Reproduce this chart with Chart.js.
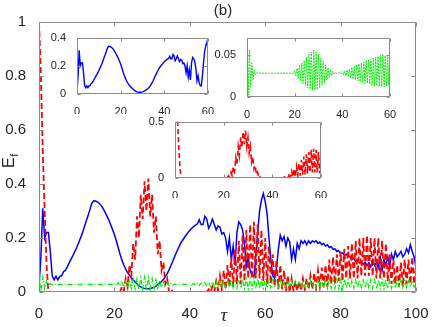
<!DOCTYPE html>
<html>
<head>
<meta charset="utf-8">
<script src="https://cdn.jsdelivr.net/npm/chart.js@4.4.1/dist/chart.umd.min.js"></script>
<style>
  body { margin: 0; background: #fff; }
  #wrap { position: relative; width: 436px; height: 327px; }
  canvas { position: absolute; }
</style>
</head>
<body>
<div id="wrap">
  <canvas id="main" width="436" height="327" style="left:0;top:0"></canvas>
  <canvas id="ins1" width="172" height="86" style="left:45px;top:28px"></canvas>
  <canvas id="ins2" width="188" height="90" style="left:212px;top:28px"></canvas>
  <canvas id="ins3" width="190" height="86" style="left:140px;top:112px"></canvas>
</div>
<script>
// sample times (tau)
const tau = [
  0,0.5,1,1.5,2,2.5,3,3.5,4,4.5,
  5,5.5,6,6.5,7,7.5,8,8.5,9,9.5,
  10,10.5,11,11.5,12,12.5,13,13.5,14,14.5,
  15,15.5,16,16.5,17,17.5,18,18.5,19,19.5,
  20,20.5,21,21.5,22,22.5,23,23.5,24,24.5,
  25,25.5,26,26.5,27,27.5,28,28.5,29,29.5,
  30,30.5,31,31.5,32,32.5,33,33.5,34,34.5,
  35,35.5,36,36.5,37,37.5,38,38.5,39,39.5,
  40,40.5,41,41.5,42,42.5,43,43.5,44,44.5,
  45,45.5,46,46.5,47,47.5,48,48.5,49,49.5,
  50,50.5,51,51.5,52,52.5,53,53.5,54,54.5,
  55,55.5,56,56.5,57,57.5,58,58.5,59,59.5,
  60,60.5,61,61.5,62,62.5,63,63.5,64,64.5,
  65,65.5,66,66.5,67,67.5,68,68.5,69,69.5,
  70,70.5,71,71.5,72,72.5,73,73.5,74,74.5,
  75,75.5,76,76.5,77,77.5,78,78.5,79,79.5,
  80,80.5,81,81.5,82,82.5,83,83.5,84,84.5,
  85,85.5,86,86.5,87,87.5,88,88.5,89,89.5,
  90,90.5,91,91.5,92,92.5,93,93.5,94,94.5,
  95,95.5,96,96.5,97,97.5,98,98.5,99,99.5,
  100
];

// blue solid
const blueE = [
  0.02,0.13,0.31,0.2,0.22,0.22,0.15,0.06,0.045,0.058,
  0.045,0.058,0.06,0.075,0.08,0.093,0.108,0.122,0.135,0.15,
  0.165,0.182,0.2,0.218,0.24,0.262,0.282,0.305,0.328,0.338,
  0.337,0.334,0.328,0.32,0.31,0.296,0.282,0.267,0.25,0.232,
  0.213,0.19,0.165,0.14,0.118,0.1,0.085,0.072,0.062,0.053,
  0.045,0.037,0.03,0.024,0.019,0.015,0.013,0.012,0.012,0.013,
  0.015,0.018,0.022,0.027,0.033,0.039,0.046,0.056,0.068,0.082,
  0.098,0.115,0.132,0.148,0.163,0.178,0.19,0.2,0.21,0.22,
  0.228,0.236,0.242,0.248,0.252,0.268,0.25,0.25,0.28,0.27,
  0.236,0.25,0.27,0.25,0.23,0.245,0.24,0.215,0.22,0.2,
  0.15,0.2,0.12,0.17,0.1,0.22,0.26,0.25,0.23,0.18,
  0.095,0.13,0.08,0.06,0.057,0.13,0.22,0.3,0.34,0.365,
  0.335,0.29,0.2,0.12,0.06,0.05,0.09,0.16,0.21,0.19,
  0.205,0.17,0.2,0.185,0.12,0.16,0.12,0.18,0.16,0.19,
  0.18,0.19,0.175,0.19,0.18,0.19,0.185,0.19,0.18,0.185,
  0.175,0.18,0.17,0.175,0.165,0.168,0.158,0.16,0.15,0.153,
  0.143,0.145,0.135,0.14,0.13,0.132,0.12,0.125,0.113,0.118,
  0.108,0.113,0.103,0.11,0.098,0.108,0.093,0.118,0.098,0.11,
  0.09,0.13,0.08,0.12,0.1,0.13,0.09,0.14,0.12,0.15,
  0.13,0.14,0.15,0.13,0.14,0.16,0.145,0.175,0.15,0.13,
  0.09
];

// red dashed
const redE = [
  1.0,0.8,0.52,0.3,0.1,0,0,0,0,0,
  0,0,0,0,0,0,0,0,0,0,
  0,0,0,0,0,0,0,0,0,0,
  0,0,0,0,0,0,0,0,0,0,
  0,0,0.005,0,0.02,0.005,0.05,0.02,0.1,0.06,
  0.18,0.12,0.28,0.2,0.36,0.27,0.41,0.3,0.42,0.28,
  0.36,0.22,0.28,0.14,0.19,0.08,0.11,0.03,0.05,0,
  0.01,0,0,0,0,0,0,0,0,0,
  0,0,0,0,0,0,0,0,0.005,0,
  0.01,0,0.02,0,0.04,0.005,0.06,0.01,0.08,0.01,
  0.1,0.02,0.13,0.02,0.16,0.03,0.19,0.03,0.21,0.04,
  0.23,0.05,0.25,0.05,0.26,0.05,0.25,0.05,0.23,0.04,
  0.2,0.03,0.17,0.03,0.14,0.02,0.12,0.01,0.1,0.01,
  0.08,0,0.06,0,0.05,0.005,0.04,0.005,0.04,0.005,
  0.05,0.01,0.05,0.01,0.06,0.01,0.07,0.015,0.08,0.02,
  0.09,0.02,0.1,0.02,0.12,0.03,0.13,0.03,0.14,0.04,
  0.15,0.04,0.16,0.05,0.17,0.05,0.18,0.05,0.19,0.05,
  0.2,0.06,0.2,0.06,0.21,0.06,0.2,0.06,0.2,0.05,
  0.2,0.05,0.19,0.05,0.18,0.04,0.14,0.03,0.12,0.03,
  0.1,0.02,0.11,0.02,0.12,0.03,0.12,0.03,0.13,0.03,
  0.1
];

// green dash-dot
const greenE = [
  0.07,0.002,0.055,0.012,0.04,0.02,0.032,0.026,0.029,0.028,
  0.028,0.028,0.028,0.028,0.028,0.028,0.028,0.028,0.028,0.028,
  0.028,0.028,0.028,0.028,0.028,0.028,0.028,0.028,0.028,0.028,
  0.028,0.028,0.028,0.028,0.028,0.028,0.028,0.028,0.028,0.028,
  0.031,0.025,0.034,0.022,0.037,0.019,0.04,0.016,0.043,0.013,
  0.047,0.011,0.05,0.009,0.053,0.008,0.055,0.008,0.053,0.009,
  0.05,0.011,0.046,0.014,0.042,0.017,0.038,0.02,0.035,0.023,
  0.032,0.025,0.03,0.027,0.029,0.028,0.028,0.028,0.029,0.027,
  0.03,0.026,0.031,0.025,0.032,0.024,0.033,0.023,0.035,0.021,
  0.036,0.02,0.038,0.019,0.039,0.018,0.04,0.017,0.041,0.016,
  0.043,0.016,0.044,0.015,0.045,0.014,0.046,0.013,0.047,0.013,
  0.048,0.012,0.049,0.012,0.05,0.012,0.049,0.013,0.048,0.014,
  0.048,0.015,0.046,0.016,0.045,0.016,0.044,0.017,0.043,0.018,
  0.042,0.018,0.042,0.019,0.041,0.02,0.041,0.02,0.04,0.02,
  0.04,0.019,0.041,0.018,0.042,0.017,0.043,0.016,0.044,0.015,
  0.045,0.014,0.046,0.013,0.046,0.013,0.047,0.012,0.047,0.012,
  0.047,0.012,0.046,0.013,0.045,0.014,0.044,0.015,0.044,0.015,
  0.043,0.016,0.043,0.016,0.044,0.015,0.045,0.014,0.046,0.013,
  0.046,0.013,0.047,0.012,0.046,0.013,0.045,0.014,0.044,0.015,
  0.044,0.016,0.043,0.016,0.043,0.017,0.042,0.017,0.042,0.018,
  0.03
];

// tick labels
const mainXTicks = [0, 20, 40, 60, 80, 100];
const mainYTicks = [0, 0.2, 0.4, 0.6, 0.8, 1];
const insetXTicks = [0, 20, 40, 60];
const blueYTicks = [0, 0.2, 0.4];
const greenYTicks = [0, 0.05];
const redYTicks = [0, 0.5];

const FONT = 'Liberation Sans';
const TXT = '#262626';

function series(vals, tMax) {
  return tau.map((t, i) => ({ x: t, y: vals[i] })).filter(p => p.x <= tMax);
}

// matlab-ish box with inward ticks
const boxPlugin = {
  id: 'box',
  beforeDatasetsDraw(chart, args, opts) {
    if (!opts.fill) return;
    const { ctx, chartArea: a } = chart;
    ctx.save();
    ctx.fillStyle = '#fff';
    ctx.fillRect(a.left, a.top, a.right - a.left, a.bottom - a.top);
    ctx.restore();
  },
  afterDatasetsDraw(chart, args, opts) {
    const { ctx, chartArea: a, scales } = chart;
    const L = opts.tick || 4;
    ctx.save();
    ctx.strokeStyle = '#8a8a8a';
    ctx.lineWidth = 1;
    const l = Math.round(a.left) + 0.5, r = Math.round(a.right) - 0.5;
    const t = Math.round(a.top) + 0.5, b = Math.round(a.bottom) - 0.5;
    ctx.beginPath();
    ctx.rect(l, t, r - l, b - t);
    scales.x.ticks.forEach(tk => {
      const px = Math.round(scales.x.getPixelForValue(tk.value)) + 0.5;
      ctx.moveTo(px, b); ctx.lineTo(px, b - L);
      ctx.moveTo(px, t); ctx.lineTo(px, t + L);
    });
    scales.y.ticks.forEach(tk => {
      const py = Math.round(scales.y.getPixelForValue(tk.value)) + 0.5;
      ctx.moveTo(l, py); ctx.lineTo(l + L, py);
      ctx.moveTo(r, py); ctx.lineTo(r - L, py);
    });
    ctx.stroke();
    ctx.restore();
  }
};

const labelsPlugin = {
  id: 'labels',
  afterDraw(chart) {
    const ctx = chart.ctx;
    ctx.save();
    ctx.fillStyle = TXT;
    ctx.textAlign = 'center';
    ctx.textBaseline = 'middle';
    ctx.font = '15px "' + FONT + '"';
    ctx.fillText('(b)', 223, 11);
    ctx.font = 'italic 19px "Liberation Serif"';
    ctx.textBaseline = 'alphabetic';
    ctx.fillText('\u03c4', 224, 321);
    ctx.translate(14, 168);
    ctx.rotate(-Math.PI / 2);
    ctx.textAlign = 'left';
    ctx.font = '16px "' + FONT + '"';
    ctx.fillText('E', 0, 0);
    const w = ctx.measureText('E').width;
    ctx.font = '11px "' + FONT + '"';
    ctx.fillText('f', w + 0.5, 4);
    ctx.restore();
  }
};

function axis(min, max, tickVals, size, pad, fit) {
  return {
    type: 'linear', min: min, max: max,
    grid: { display: false }, border: { display: false },
    afterBuildTicks: s => { s.ticks = tickVals.map(v => ({ value: v })); },
    ticks: {
      font: { family: FONT, size: size }, color: TXT, padding: pad,
      maxRotation: 0, autoSkip: false, callback: v => String(v)
    },
    afterFit: fit
  };
}

function line(vals, tMax, color, width, dash, order) {
  return {
    data: series(vals, tMax), borderColor: color, borderWidth: width,
    borderDash: dash, pointRadius: 0, tension: 0, fill: false, order: order
  };
}

const common = {
  responsive: false, animation: false, events: [],
  plugins: { legend: { display: false }, tooltip: { enabled: false } }
};

new Chart(document.getElementById('main'), {
  type: 'line',
  data: { datasets: [
    line(greenE, 100, '#00ee00', 1.2, [5, 2, 1, 2], 0),
    line(redE, 100, '#ff0000', 1.8, [6, 3], 1),
    line(blueE, 100, '#0000ff', 1.5, [], 2)
  ] },
  options: Object.assign({}, common, {
    layout: { padding: { top: 22, right: 20, left: 0, bottom: 0 } },
    plugins: Object.assign({}, common.plugins, { box: { tick: 4 } }),
    scales: {
      x: axis(0, 100, mainXTicks, 15, 5, s => { s.height = 35; }),
      y: axis(0, 1, mainYTicks, 15, 5, s => { s.width = 39; })
    }
  }),
  plugins: [boxPlugin, labelsPlugin]
});

function inset(id, vals, color, width, dash, ymax, yTicks, padL, padT, padR, xH) {
  new Chart(document.getElementById(id), {
    type: 'line',
    data: { datasets: [line(vals, 60, color, width, dash, 0)] },
    options: Object.assign({}, common, {
      layout: { padding: { top: padT, right: padR, left: 0, bottom: 0 } },
      plugins: Object.assign({}, common.plugins, { box: { tick: 3, fill: true } }),
      scales: {
        x: axis(0, 60, insetXTicks, 11, 3, s => { s.height = xH; }),
        y: axis(0, ymax, yTicks, 11, 3, s => { s.width = padL; })
      }
    }),
    plugins: [boxPlugin]
  });
}

inset('ins1', blueE, '#0000ff', 1.4, [], 0.4, blueYTicks, 32, 9, 8, 20);
inset('ins2', greenE, '#00ee00', 1, [2, 1], 0.07, greenYTicks, 35, 8, 10, 21);
inset('ins3', redE, '#ff0000', 1.6, [5, 3], 0.5, redYTicks, 35, 9, 7, 20);
</script>
</body>
</html>
